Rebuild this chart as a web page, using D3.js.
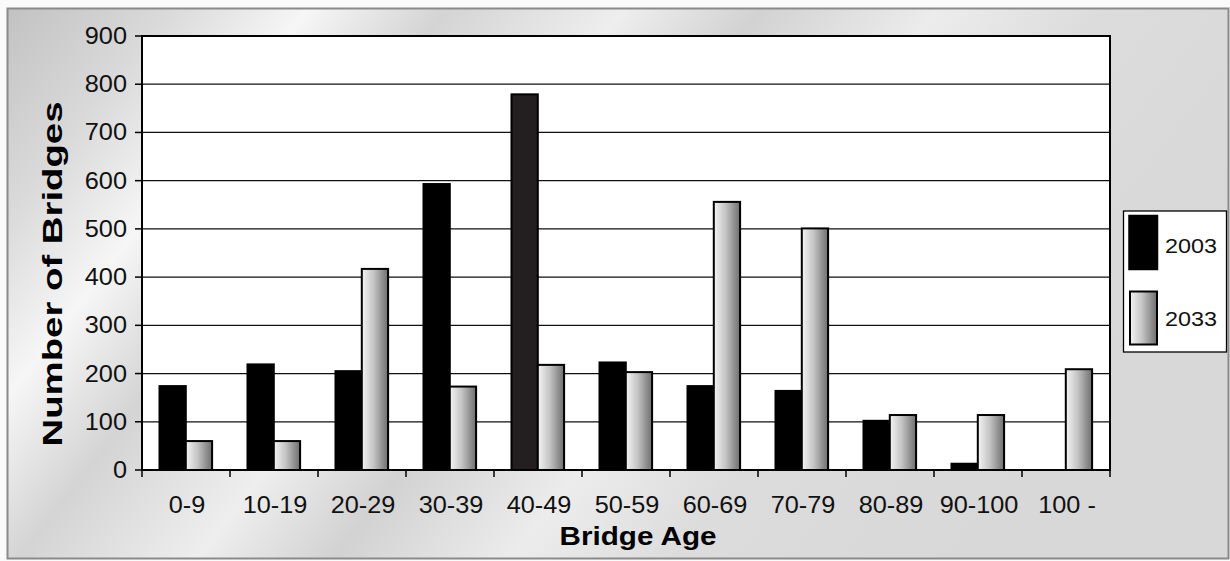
<!DOCTYPE html>
<html><head><meta charset="utf-8">
<script src="https://cdn.jsdelivr.net/npm/d3@7"></script>
<style>html,body{margin:0;padding:0;background:#fff;}svg{display:block;font-family:"Liberation Sans",Arial,sans-serif;}</style>
</head><body><svg id="c" width="1230" height="561"></svg>
<script>
const categories = ["0-9","10-19","20-29","30-39","40-49","50-59","60-69","70-79","80-89","90-100","100 -"];
const series2003 = [174, 219, 205, 593, 779, 223, 174, 164, 102, 13, 0];
const series2033 = [60, 60, 417, 173, 218, 203, 556, 501, 114, 114, 209];
const seriesNames = ["2003", "2033"];
const yTicks = [0,100,200,300,400,500,600,700,800,900];

const svg = d3.select("#c");
const defs = svg.append("defs");

// background gradient
const bg = defs.append("linearGradient").attr("id","bg").attr("x1","0").attr("y1","0").attr("x2","1").attr("y2","0.35");
[[0,"#c2c2c2"],[0.12,"#dadada"],[0.22,"#f6f6f6"],[0.32,"#d4d4d4"],[0.45,"#eeeeee"],[0.55,"#d2d2d2"],[0.68,"#ececec"],[0.8,"#dcdcdc"],[1,"#d8d8d8"]]
  .forEach(s=>bg.append("stop").attr("offset",s[0]).attr("stop-color",s[1]));
const gr = defs.append("linearGradient").attr("id","gbar").attr("x1","0").attr("y1","0").attr("x2","1").attr("y2","0");
[[0,"#f4f4f4"],[0.45,"#c4c4c4"],[1,"#6e6e6e"]].forEach(s=>gr.append("stop").attr("offset",s[0]).attr("stop-color",s[1]));

svg.append("rect").attr("x",0).attr("y",0).attr("width",1230).attr("height",561).attr("fill","#fafafa");
svg.append("rect").attr("x",7.5).attr("y",8.5).attr("width",1221).attr("height",550).attr("fill","url(#bg)").attr("stroke","#8a8a8a").attr("stroke-width",2);

const L=142, R=1110, T=36, B=470;
const x0 = d3.scaleBand().domain(categories).range([L,R]).paddingInner(0).paddingOuter(0);
const y = d3.scaleLinear().domain([0,900]).range([B,T]);
const barW = 26.3, leftGap = 17.5;

svg.append("rect").attr("x",L).attr("y",T).attr("width",R-L).attr("height",B-T).attr("fill","#fff");

// gridlines
svg.append("g").selectAll("line").data(yTicks.filter(d=>d>0)).join("line")
  .attr("x1",L).attr("x2",R).attr("y1",d=>y(d)).attr("y2",d=>y(d))
  .attr("stroke","#111").attr("stroke-width",1.3);

// bars
const g = svg.append("g");
categories.forEach((c,i)=>{
  const bx = x0(c)+leftGap;
  const v1 = series2003[i], v2 = series2033[i];
  if (v1>0) g.append("rect").attr("x",bx).attr("y",y(v1)).attr("width",barW).attr("height",B-y(v1))
     .attr("fill", c==="40-49" ? "#231f20" : "#000").attr("stroke","#000").attr("stroke-width",2);
  if (v2>0) g.append("rect").attr("x",bx+barW).attr("y",y(v2)).attr("width",barW).attr("height",B-y(v2))
     .attr("fill","url(#gbar)").attr("stroke","#000").attr("stroke-width",2);
});

// plot border
svg.append("rect").attr("x",L).attr("y",T).attr("width",R-L).attr("height",B-T).attr("fill","none").attr("stroke","#000").attr("stroke-width",2);

// y axis ticks & labels
const yg = svg.append("g");
yTicks.forEach(t=>{
  yg.append("line").attr("x1",L-7).attr("x2",L).attr("y1",y(t)).attr("y2",y(t)).attr("stroke","#000").attr("stroke-width",1.5);
  yg.append("text").attr("transform",`translate(127,${y(t)+8}) scale(1.1,1)`).attr("text-anchor","end")
    .attr("font-size",23).attr("fill","#111").text(t);
});

// x ticks
const xt = categories.map(c=>x0(c)).concat([R]);
svg.append("g").selectAll("line").data(xt).join("line")
  .attr("x1",d=>d).attr("x2",d=>d).attr("y1",B).attr("y2",B+7).attr("stroke","#000").attr("stroke-width",1.5);
svg.append("g").selectAll("text").data(categories).join("text")
  .attr("transform",d=>`translate(${x0(d)+x0.bandwidth()/2+1},513) scale(1.1,1)`)
  .attr("text-anchor","middle").attr("font-size",23).attr("fill","#111").text(d=>d);

// axis titles
svg.append("text").attr("x",638).attr("y",545).attr("text-anchor","middle").attr("font-size",26)
  .attr("font-weight","bold").attr("textLength",157).attr("lengthAdjust","spacingAndGlyphs").text("Bridge Age");
svg.append("text").attr("transform","translate(62,274) rotate(-90)").attr("text-anchor","middle")
  .attr("font-size",28).attr("font-weight","bold").attr("textLength",345).attr("lengthAdjust","spacingAndGlyphs").text("Number of Bridges");

// legend
const lg = svg.append("g");
lg.append("rect").attr("x",1123.5).attr("y",211).attr("width",103).attr("height",141).attr("fill","#fff").attr("stroke","#000").attr("stroke-width",1.3);
lg.append("rect").attr("x",1129).attr("y",215.5).attr("width",28.5).attr("height",54).attr("fill","#000").attr("stroke","#000").attr("stroke-width",1.5);
lg.append("rect").attr("x",1130).attr("y",291.5).attr("width",27).attr("height",53).attr("fill","url(#gbar)").attr("stroke","#000").attr("stroke-width",2);
[[seriesNames[0],252.5],[seriesNames[1],325.5]].forEach(d=>{
  lg.append("text").attr("transform",`translate(1165,${d[1]}) scale(1.17,1)`).attr("font-size",20).attr("fill","#111").text(d[0]);
});
</script></body></html>
